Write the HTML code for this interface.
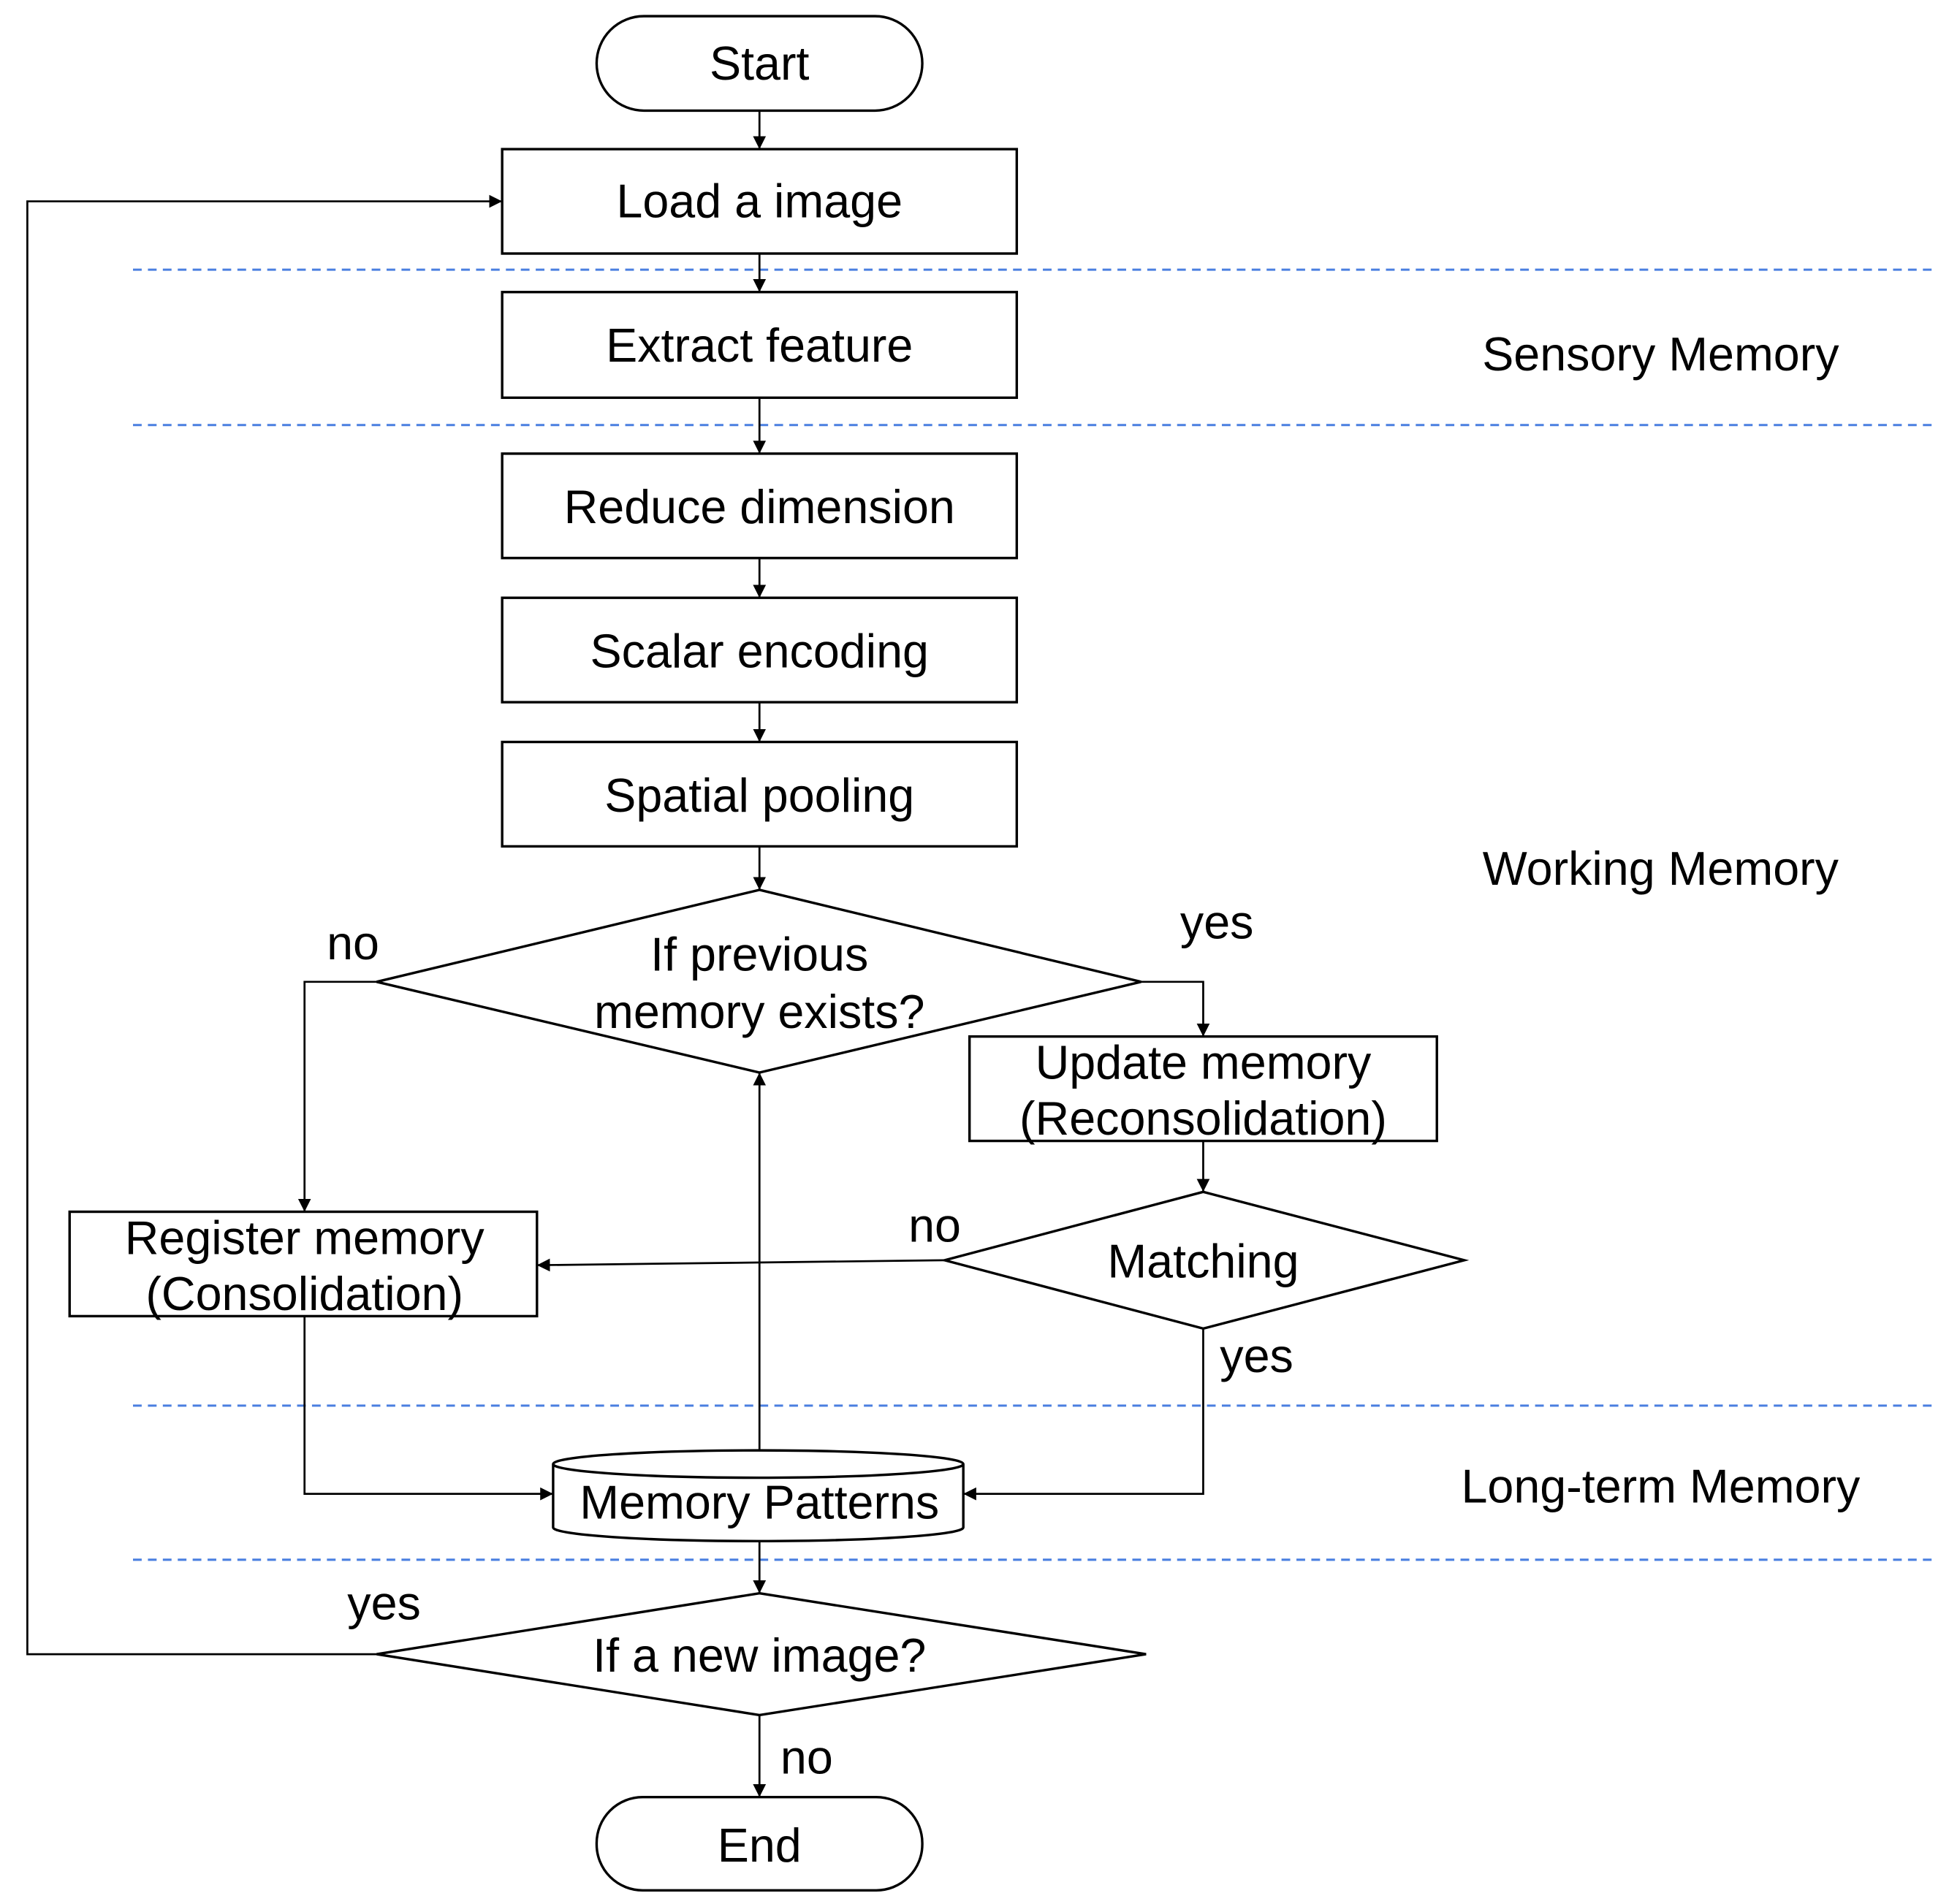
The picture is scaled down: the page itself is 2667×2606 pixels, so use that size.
<!DOCTYPE html>
<html><head><meta charset="utf-8"><style>html,body{margin:0;padding:0;background:#fff}svg{display:block}</style></head>
<body>
<svg width="2667" height="2606" viewBox="0 0 1568 1532" preserveAspectRatio="none" xmlns="http://www.w3.org/2000/svg">
<defs><marker id="a" viewBox="0 0 10 10" refX="10" refY="5" markerWidth="6.5" markerHeight="6.5" orient="auto"><path d="M0,0L10,5L0,10z" fill="#000"/></marker></defs>
<g stroke="#4a7fe0" stroke-width="1.8" stroke-dasharray="7,5">
<line x1="107" y1="217" x2="1555" y2="217"/><line x1="107" y1="342" x2="1555" y2="342"/>
<line x1="107" y1="1131" x2="1555" y2="1131"/><line x1="107" y1="1255" x2="1555" y2="1255"/>
</g>
<g fill="none" stroke="#000" stroke-width="1.6">
<line x1="611" y1="89" x2="611" y2="120" marker-end="url(#a)"/>
<line x1="611" y1="204" x2="611" y2="235" marker-end="url(#a)"/>
<line x1="611" y1="320" x2="611" y2="365" marker-end="url(#a)"/>
<line x1="611" y1="449" x2="611" y2="481" marker-end="url(#a)"/>
<line x1="611" y1="565" x2="611" y2="597" marker-end="url(#a)"/>
<line x1="611" y1="681" x2="611" y2="716" marker-end="url(#a)"/>
<polyline points="303,790 245,790 245,975" marker-end="url(#a)"/>
<polyline points="918,790 968,790 968,834" marker-end="url(#a)"/>
<line x1="968" y1="918" x2="968" y2="959" marker-end="url(#a)"/>
<line x1="760" y1="1014" x2="432" y2="1018" marker-end="url(#a)"/>
<polyline points="245,1059 245,1202 445,1202" marker-end="url(#a)"/>
<polyline points="968,1069 968,1202 775,1202" marker-end="url(#a)"/>
<line x1="611" y1="1167" x2="611" y2="863" marker-end="url(#a)"/>
<line x1="611" y1="1240" x2="611" y2="1282" marker-end="url(#a)"/>
<line x1="611" y1="1380" x2="611" y2="1446" marker-end="url(#a)"/>
<polyline points="303,1331 22,1331 22,162 404,162" marker-end="url(#a)"/>
</g>
<g fill="#fff" stroke="#000" stroke-width="2">
<rect x="480" y="13" width="262" height="76" rx="38"/>
<rect x="404" y="120" width="414" height="84"/>
<rect x="404" y="235" width="414" height="85"/>
<rect x="404" y="365" width="414" height="84"/>
<rect x="404" y="481" width="414" height="84"/>
<rect x="404" y="597" width="414" height="84"/>
<polygon points="611,716 918,790 611,863 303,790"/>
<rect x="780" y="834" width="376" height="84"/>
<rect x="56" y="975" width="376" height="84"/>
<polygon points="968,959 1178,1014 968,1069 760,1014"/>
<path d="M445,1178 L445,1229 A165,11 0 0 0 775,1229 L775,1178 A165,11 0 0 0 445,1178 A165,11 0 0 0 775,1178"/>
<polygon points="611,1282 922,1331 611,1380 303,1331"/>
<rect x="480" y="1446" width="262" height="75" rx="37"/>
</g>
<g font-family="Liberation Sans, sans-serif" font-size="38" text-anchor="middle" fill="#000">
<text x="611" y="64">Start</text>
<text x="611" y="175">Load a image</text>
<text x="611" y="291">Extract feature</text>
<text x="611" y="421">Reduce dimension</text>
<text x="611" y="537">Scalar encoding</text>
<text x="611" y="653">Spatial pooling</text>
<text x="611" y="781">If previous</text>
<text x="611" y="827">memory exists?</text>
<text x="968" y="868">Update memory</text>
<text x="968" y="913">(Reconsolidation)</text>
<text x="245" y="1009">Register memory</text>
<text x="245" y="1054">(Consolidation)</text>
<text x="968" y="1028">Matching</text>
<text x="611" y="1222">Memory Patterns</text>
<text x="611" y="1345">If a new image?</text>
<text x="611" y="1498">End</text>
<text x="1336" y="298">Sensory Memory</text>
<text x="1336" y="712">Working Memory</text>
<text x="1336" y="1209">Long-term Memory</text>
<text x="284" y="772">no</text>
<text x="979" y="755">yes</text>
<text x="752" y="999">no</text>
<text x="1011" y="1104">yes</text>
<text x="309" y="1303">yes</text>
<text x="649" y="1427">no</text>
</g>
</svg>
</body></html>
